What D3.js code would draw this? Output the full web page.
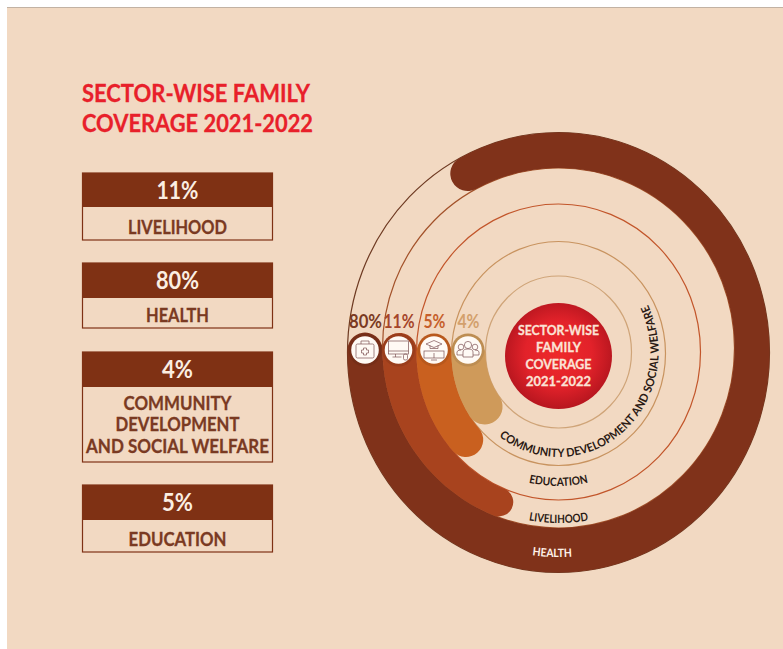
<!DOCTYPE html>
<html><head><meta charset="utf-8">
<script src="https://cdn.jsdelivr.net/npm/d3@7"></script>
<style>html,body{margin:0;padding:0;background:#fff;overflow:hidden}svg{display:block}text{font-family:Lato,"Open Sans",sans-serif;font-weight:700;stroke-width:0.3px}</style>
</head><body><svg id="c" width="783" height="649"></svg>
<script>
// ---- data
const titleLines = ["SECTOR-WISE FAMILY","COVERAGE 2021-2022"];
const centreLines = ["SECTOR-WISE","FAMILY","COVERAGE","2021-2022"];
const panelSectors = ["LIVELIHOOD","HEALTH","COMMUNITY DEVELOPMENT AND SOCIAL WELFARE","EDUCATION"];
const panelValues = [11,80,4,5];
const panelLabelLines = [["LIVELIHOOD"],["HEALTH"],["COMMUNITY","DEVELOPMENT","AND SOCIAL WELFARE"],["EDUCATION"]];
const ringSectors = ["HEALTH","LIVELIHOOD","EDUCATION","COMMUNITY DEVELOPMENT AND SOCIAL WELFARE"];
const ringValues = [80,11,5,4];

// ---- layout & style (separate from values)
const bg="#f2d9c2", dark="#7f3114";
const bandColors=["#80321a","#a8431e","#c9601f","#cf9a5a"];
const pctColors=["#7a3a22","#a5452a","#c65f2b","#d3a06c"];
const C={x:558.5};
// ellipses from outside in
const E=[{rx:211,ry:220,cy:352.5,s:"#6e3a22"},{rx:176,ry:180,cy:348,s:"#a3522a"},{rx:142,ry:148,cy:352,s:"#c2552a"},{rx:107,ry:112,cy:353.5,s:"#c8935f"},{rx:73,ry:76,cy:352,s:"#cfa478"}];
// the picture's arcs are not drawn to value; this scale maps percent to the sweep
const sweep=d3.scaleLinear().domain([4,5,11,80]).range([35,42,68,298]);
const rad=d=>d*Math.PI/180;
const pt=(e,a)=>[C.x-e.rx*Math.cos(rad(a)),e.cy+e.ry*Math.sin(rad(a))];
const line=d3.line();
const svg=d3.select("#c");
const defs=svg.append("defs");
const g1=defs.append("radialGradient").attr("id","red").attr("cx","50%").attr("cy","48%").attr("r","52%");
g1.append("stop").attr("offset","0%").attr("stop-color","#ee2a2b");
g1.append("stop").attr("offset","60%").attr("stop-color","#e2222a");
g1.append("stop").attr("offset","100%").attr("stop-color","#b7161f");

svg.append("rect").attr("x",7).attr("y",7).attr("width",776).attr("height",642).attr("fill",bg);
svg.append("line").attr("x1",7).attr("x2",783).attr("y1",7.5).attr("y2",7.5).attr("stroke","#c2b2a3");

// title
svg.selectAll(".t").data(titleLines).join("text").attr("x",82).attr("y",(d,i)=>102+i*30)
  .attr("font-size",25).attr("fill","#e8202a").attr("stroke","#e8202a").attr("textLength",(d,i)=>[228,231][i]).attr("lengthAdjust","spacingAndGlyphs").text(d=>d);

// panels
const pY=[[173,207,240],[263,298,328],[352,387,462],[485,520,552]];
const labelY=[[233.5],[321.5],[410,431,453],[545.5]];
const labelW=[[99],[63],[108,124,183],[98]];
const valueW=[42,43,31,31];
panelSectors.forEach((s,i)=>{
  const [a,b,c]=pY[i];
  svg.append("rect").attr("x",82.5).attr("y",a).attr("width",190).attr("height",c-a).attr("fill","none").attr("stroke",dark).attr("stroke-width",1.2);
  svg.append("rect").attr("x",82).attr("y",a).attr("width",191).attr("height",b-a).attr("fill",dark);
  svg.append("text").attr("x",177.5).attr("y",(a+b)/2+8.5).attr("text-anchor","middle").attr("font-size",24).attr("fill","#fbeee2")
    .attr("textLength",valueW[i]).attr("lengthAdjust","spacingAndGlyphs").text(panelValues[i]+"%");
  panelLabelLines[i].forEach((l,j)=>svg.append("text").attr("x",177.5).attr("y",labelY[i][j]).attr("text-anchor","middle")
    .attr("font-size",19).attr("fill","#7a3a22").attr("stroke","#7a3a22").attr("textLength",labelW[i][j]).attr("lengthAdjust","spacingAndGlyphs").text(l));
});

// rings
svg.selectAll(".ring").data(E).join("ellipse").attr("cx",C.x).attr("cy",d=>d.cy).attr("rx",d=>d.rx).attr("ry",d=>d.ry)
  .attr("fill","none").attr("stroke",d=>d.s).attr("stroke-width",1.2);

// bands
ringValues.forEach((v,i)=>{
  const o=E[i], n=E[i+1], sw=sweep(v);
  const as=d3.range(0,sw,2).concat([sw]);
  const oo=as.map(a=>pt(o,a)), ii=as.slice().reverse().map(a=>pt(n,a));
  const e0=oo[oo.length-1], e1=ii[0], s1=oo[0];
  const cr=Math.hypot(e0[0]-e1[0],e0[1]-e1[1])/2;
  const d=line(oo)+`A${cr} ${cr} 0 0 0 ${e1[0]} ${e1[1]}`+line(ii).replace("M","L")+`A${cr} ${cr} 0 0 0 ${s1[0]} ${s1[1]}Z`;
  svg.append("path").attr("d",d).attr("fill",bandColors[i]);
});

// centre
svg.append("ellipse").attr("cx",558.5).attr("cy",356).attr("rx",53.5).attr("ry",53).attr("fill","url(#red)");
svg.selectAll(".cl").data(centreLines).join("text").attr("x",558.5).attr("y",(d,i)=>335+i*17)
  .attr("text-anchor","middle").attr("font-size",14).attr("fill","#fbe3d6").attr("stroke","#fbe3d6").attr("textLength",(d,i)=>[81,45,66,65][i]).attr("lengthAdjust","spacingAndGlyphs").text(d=>d);

// icons + percent labels
const iconX=[365,398.5,434,468];
const icons=[
 g=>{g.append("rect").attr("x",-9).attr("y",-6).attr("width",18).attr("height",14).attr("rx",1.5);
     g.append("path").attr("d","M-4 -6V-9H4V-6M-1.5 -2H1.5V0H3.5V3H1.5V5H-1.5V3H-3.5V0H-1.5Z");},
 g=>{g.append("rect").attr("x",-10).attr("y",-9).attr("width",20).attr("height",13);
     g.append("path").attr("d","M-10 1H10M-3 4V7M-6 7H3");
     g.append("rect").attr("x",5).attr("y",4).attr("width",4).attr("height",6).attr("rx",1.5);},
 g=>{g.append("path").attr("d","M-8 -6L0 -9.5L8 -6L0 -2.5ZM-4 -4.5V-1.5H4V-4.5");
     g.append("rect").attr("x",-10).attr("y",1).attr("width",20).attr("height",7);
     g.append("path").attr("d","M0 8V3M-3 10H3");},
 g=>{g.append("circle").attr("cx",0).attr("cy",-5).attr("r",3.6);
     g.append("circle").attr("cx",-7).attr("cy",-3).attr("r",2.8);
     g.append("circle").attr("cx",7).attr("cy",-3).attr("r",2.8);
     g.append("path").attr("d","M-5 7V2Q-5 -1 0 -1Q5 -1 5 2V7ZM-5 5H-11V2Q-11 0 -7 0M5 5H11V2Q11 0 7 0");}
];
ringValues.forEach((v,i)=>{
  const g=svg.append("g").attr("transform",`translate(${iconX[i]},350)`);
  g.append("circle").attr("r",16.5).attr("fill",d3.color(bandColors[i]).darker(0.25));
  g.append("circle").attr("r",13.8).attr("fill","#fffaf5");
  const ig=g.append("g").attr("fill","none").attr("stroke","#7c5255").attr("stroke-width",0.7);
  icons[i](ig);
  svg.append("text").attr("x",iconX[i]+0.5).attr("y",328).attr("text-anchor","middle").attr("font-size",18)
    .attr("fill",pctColors[i]).attr("textLength",[33,31,22,22][i]).attr("lengthAdjust","spacingAndGlyphs").text(v+"%");
});

// curved labels
const curve=[
 {rx:205,ry:205,cy:352,a0:50,a1:128,fs:11.5,fill:"#fff3ea",w:40},
 {rx:169,ry:171,cy:352,a0:60,a1:120,fs:11.5,fill:"#2a1a14",w:60},
 {rx:133,ry:134,cy:352,a0:60,a1:120,fs:11.5,fill:"#2a1a14",w:60},
 {rx:100,ry:105,cy:352,a0:40,a1:220,fs:11.5,fill:"#2a1a14",w:274}
];
ringSectors.forEach((s,i)=>{
  const c=curve[i], id="lp"+i;
  defs.append("path").attr("id",id).attr("d",line(d3.range(c.a0,c.a1+.1,1).map(a=>pt(c,a))));
  svg.append("text").attr("font-size",c.fs).attr("fill",c.fill).attr("text-anchor","middle")
    .append("textPath").attr("href","#"+id).attr("startOffset",i==0?"49%":"50%").attr("textLength",c.w).attr("lengthAdjust","spacingAndGlyphs").text(s);
});
</script></body></html>
